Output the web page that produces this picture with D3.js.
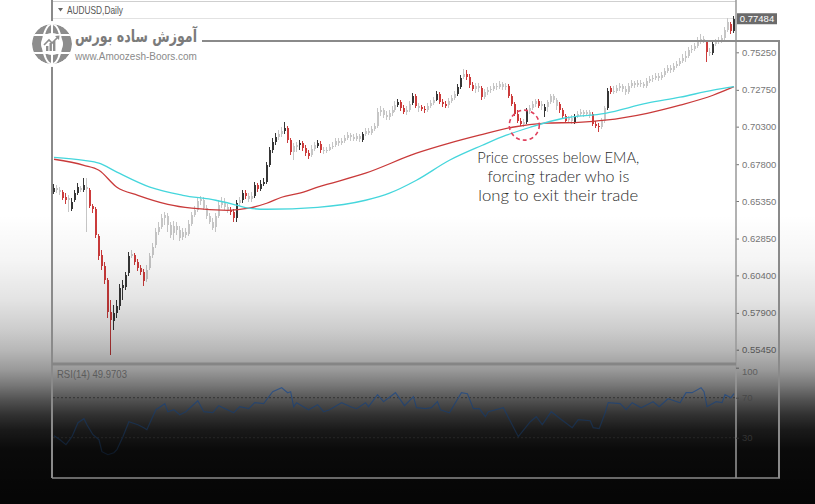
<!DOCTYPE html>
<html>
<head>
<meta charset="utf-8">
<script src="https://cdn.jsdelivr.net/npm/d3@7"></script>
<style>
  html, body { margin: 0; padding: 0; background: #fff; }
  svg { display: block; }
</style>
</head>
<body>
<svg id="chart" width="815" height="504"></svg>
<script>
// AUDUSD daily candles (one entry per trading day)
const open = [
  .6593,.6620,.6607,.6593,.6560,.6540,.6480,.6540,.6587,.6620,
  .6607,.6627,.6607,.6500,.6480,.6300,.6174,.6100,.6007,.5794,
  .5734,.5787,.5834,.5954,.5961,.6054,.6167,.6174,.6127,.6087,
  .6060,.6014,.6087,.6174,.6240,.6327,.6360,.6420,.6433,.6374,
  .6320,.6367,.6340,.6294,.6327,.6314,.6380,.6440,.6473,.6533,
  .6540,.6487,.6433,.6393,.6360,.6433,.6507,.6527,.6493,.6473,
  .6460,.6420,.6520,.6540,.6587,.6567,.6547,.6567,.6640,.6613,
  .6647,.6660,.6773,.6873,.6926,.6960,.6980,.6999,.7019,.6940,
  .6860,.6893,.6906,.6920,.6886,.6853,.6840,.6880,.6900,.6913,
  .6873,.6866,.6873,.6893,.6906,.6933,.6920,.6933,.6953,.6973,
  .6960,.6946,.6966,.6940,.6980,.6999,.6986,.7013,.7033,.7126,
  .7139,.7106,.7093,.7119,.7139,.7173,.7193,.7153,.7126,.7139,
  .7186,.7233,.7166,.7159,.7146,.7139,.7166,.7186,.7206,.7246,
  .7193,.7179,.7173,.7199,.7219,.7246,.7293,.7359,.7379,.7359,
  .7306,.7279,.7299,.7286,.7226,.7259,.7273,.7279,.7299,.7293,
  .7313,.7293,.7299,.7233,.7179,.7113,.7066,.7046,.7059,.7133,
  .7153,.7179,.7199,.7166,.7133,.7159,.7193,.7233,.7206,.7179,
  .7139,.7099,.7073,.7086,.7059,.7099,.7113,.7126,.7113,.7126,
  .7113,.7046,.7033,.7026,.7066,.7153,.7286,.7259,.7266,.7286,
  .7299,.7279,.7259,.7299,.7319,.7306,.7319,.7313,.7299,.7333,
  .7346,.7353,.7366,.7353,.7372,.7399,.7419,.7406,.7432,.7446,
  .7466,.7486,.7499,.7539,.7546,.7566,.7599,.7612,.7592,.7526,
  .7519,.7579,.7592,.7606,.7619,.7672,.7712,.7666
];
const high = [
  .6647,.6640,.6627,.6607,.6587,.6573,.6553,.6607,.6653,.6633,
  .6687,.6687,.6620,.6513,.6493,.6314,.6207,.6127,.6021,.5874,
  .5841,.5874,.5981,.6007,.6060,.6194,.6207,.6187,.6147,.6107,
  .6080,.6107,.6187,.6254,.6354,.6393,.6447,.6460,.6453,.6393,
  .6400,.6393,.6367,.6354,.6354,.6407,.6460,.6500,.6560,.6567,
  .6560,.6507,.6453,.6420,.6453,.6540,.6560,.6553,.6513,.6493,
  .6480,.6540,.6560,.6607,.6607,.6587,.6593,.6660,.6653,.6673,
  .6687,.6793,.6893,.6953,.6986,.7006,.7026,.7059,.7033,.6953,
  .6920,.6926,.6940,.6933,.6906,.6873,.6906,.6926,.6940,.6933,
  .6893,.6893,.6913,.6926,.6953,.6953,.6953,.6973,.6993,.6986,
  .6980,.6986,.6980,.6993,.7019,.7019,.7033,.7053,.7153,.7166,
  .7153,.7133,.7139,.7166,.7199,.7213,.7206,.7173,.7166,.7199,
  .7253,.7246,.7186,.7173,.7166,.7186,.7206,.7226,.7266,.7259,
  .7213,.7199,.7219,.7239,.7266,.7313,.7372,.7412,.7406,.7379,
  .7326,.7319,.7319,.7299,.7279,.7293,.7299,.7319,.7319,.7333,
  .7326,.7319,.7313,.7246,.7193,.7139,.7086,.7079,.7153,.7173,
  .7199,.7213,.7213,.7199,.7179,.7206,.7246,.7246,.7219,.7193,
  .7153,.7113,.7099,.7106,.7113,.7133,.7146,.7139,.7139,.7139,
  .7126,.7066,.7053,.7086,.7166,.7286,.7299,.7299,.7306,.7319,
  .7313,.7299,.7319,.7339,.7333,.7339,.7339,.7326,.7353,.7366,
  .7372,.7386,.7386,.7392,.7419,.7439,.7439,.7452,.7466,.7486,
  .7512,.7532,.7559,.7572,.7586,.7626,.7646,.7632,.7606,.7552,
  .7592,.7612,.7626,.7639,.7692,.7752,.7725,.7765
];
const low = [
  .6580,.6587,.6573,.6540,.6513,.6460,.6467,.6527,.6573,.6593,
  .6593,.6327,.6487,.6453,.6287,.6140,.6074,.5981,.5754,.5508,
  .5674,.5754,.5807,.5874,.5941,.6034,.6154,.6107,.6067,.6040,
  .5967,.5994,.6074,.6154,.6220,.6307,.6347,.6374,.6327,.6287,
  .6274,.6307,.6267,.6274,.6287,.6300,.6367,.6427,.6460,.6507,
  .6473,.6413,.6380,.6340,.6327,.6420,.6487,.6473,.6453,.6440,
  .6393,.6393,.6500,.6520,.6547,.6527,.6527,.6553,.6593,.6600,
  .6633,.6647,.6760,.6853,.6906,.6940,.6960,.6980,.6920,.6840,
  .6806,.6860,.6873,.6866,.6833,.6813,.6826,.6866,.6886,.6853,
  .6846,.6853,.6866,.6880,.6893,.6900,.6906,.6920,.6940,.6933,
  .6933,.6933,.6926,.6926,.6966,.6973,.6973,.6999,.7019,.7099,
  .7086,.7073,.7073,.7099,.7126,.7159,.7133,.7113,.7106,.7126,
  .7173,.7153,.7126,.7133,.7119,.7126,.7153,.7173,.7199,.7179,
  .7159,.7153,.7153,.7186,.7206,.7233,.7279,.7346,.7339,.7286,
  .7266,.7253,.7259,.7206,.7213,.7239,.7253,.7266,.7273,.7279,
  .7273,.7273,.7219,.7166,.7099,.7053,.7033,.7026,.7046,.7113,
  .7139,.7159,.7153,.7139,.7093,.7126,.7179,.7186,.7139,.7119,
  .7086,.7059,.7053,.7046,.7046,.7086,.7099,.7093,.7099,.7086,
  .7033,.7019,.6993,.7013,.7053,.7139,.7246,.7246,.7253,.7266,
  .7259,.7239,.7246,.7286,.7286,.7293,.7293,.7286,.7286,.7319,
  .7326,.7339,.7333,.7339,.7359,.7386,.7386,.7392,.7419,.7432,
  .7452,.7459,.7486,.7519,.7532,.7552,.7579,.7586,.7459,.7499,
  .7506,.7566,.7579,.7586,.7606,.7659,.7646,.7652
];
const close = [
  .6620,.6607,.6593,.6553,.6540,.6553,.6527,.6587,.6627,.6607,
  .6640,.6613,.6500,.6480,.6307,.6167,.6100,.6007,.5794,.5741,
  .5787,.5834,.5954,.5974,.6040,.6167,.6180,.6127,.6087,.6060,
  .6001,.6074,.6167,.6227,.6327,.6360,.6420,.6440,.6374,.6307,
  .6367,.6340,.6287,.6327,.6307,.6380,.6440,.6473,.6533,.6547,
  .6487,.6433,.6393,.6354,.6433,.6507,.6533,.6493,.6473,.6460,
  .6420,.6520,.6540,.6587,.6567,.6547,.6567,.6640,.6613,.6647,
  .6660,.6773,.6873,.6926,.6960,.6980,.6999,.7019,.6940,.6860,
  .6900,.6906,.6920,.6886,.6853,.6833,.6880,.6906,.6920,.6873,
  .6866,.6873,.6893,.6900,.6933,.6920,.6933,.6953,.6973,.6960,
  .6946,.6966,.6946,.6980,.6999,.6986,.7013,.7033,.7126,.7139,
  .7106,.7093,.7119,.7139,.7173,.7193,.7153,.7126,.7139,.7179,
  .7233,.7166,.7153,.7146,.7139,.7166,.7186,.7206,.7246,.7193,
  .7179,.7166,.7199,.7219,.7246,.7293,.7353,.7379,.7359,.7306,
  .7279,.7299,.7286,.7226,.7259,.7273,.7279,.7299,.7293,.7313,
  .7293,.7299,.7233,.7179,.7113,.7066,.7046,.7059,.7133,.7153,
  .7179,.7199,.7166,.7179,.7159,.7193,.7233,.7206,.7166,.7139,
  .7099,.7066,.7086,.7066,.7099,.7113,.7126,.7113,.7126,.7106,
  .7046,.7033,.7026,.7066,.7153,.7266,.7259,.7266,.7286,.7299,
  .7279,.7259,.7299,.7319,.7306,.7319,.7313,.7299,.7333,.7346,
  .7353,.7366,.7353,.7372,.7399,.7419,.7406,.7432,.7446,.7466,
  .7486,.7499,.7539,.7546,.7566,.7599,.7612,.7606,.7526,.7519,
  .7579,.7592,.7606,.7619,.7672,.7725,.7666,.77484
];
// 1 = candle shown in full colour, 0 = muted grey candle
const emphasis = [
  1,0,0,1,1,0,1,1,1,0,  1,0,1,1,1,1,1,1,1,1,  1,1,1,1,1,1,0,1,1,1,
  1,0,0,0,0,0,0,0,0,0,  0,0,0,0,0,0,0,0,0,0,  0,0,0,0,0,0,0,0,0,1,
  1,1,0,1,1,0,0,1,1,1,  1,1,1,1,1,0,0,1,1,1,  0,0,1,1,1,1,0,0,1,1,
  0,0,0,0,0,0,0,0,0,0,  0,0,0,1,0,0,0,0,0,0,  0,0,0,0,0,1,1,1,0,0,
  1,1,0,1,1,0,0,0,1,1,  1,1,0,0,0,1,1,0,1,1,  1,0,0,1,0,0,0,0,0,0,
  0,0,1,1,1,1,1,0,1,0,  0,0,1,0,1,0,0,0,0,1,  1,1,0,0,1,0,0,0,0,0,
  1,1,1,0,0,1,1,0,0,0,  0,0,0,0,0,0,0,0,0,0,  0,0,0,0,0,0,0,0,0,0,
  0,0,0,0,0,0,0,0,1,0,  1,0,0,0,0,0,1,1
];

// Moving averages: [candle index, price]
const emaRed = [
  [0,.6813],[10,.6773],[15,.6740],[21,.6627],[28,.6573],[38,.6513],[46,.6487],
  [58,.6473],[65,.6487],[71,.6520],[76,.6560],[82,.6587],[88,.6627],[104,.6720],
  [121,.6853],[132,.6920],[142,.6973],[153,.7026],[164,.7053],[175,.7059],
  [184,.7073],[198,.7119],[209,.7173],[220,.7239],[227,.7296]
];
const emaCyan = [
  [0,.6826],[10,.6806],[15,.6787],[21,.6727],[32,.6627],[43,.6573],[54,.6540],
  [61,.6507],[65,.6487],[71,.6480],[88,.6493],[104,.6540],[112,.6587],[121,.6673],
  [132,.6806],[143,.6906],[151,.6973],[159,.7026],[170,.7086],[184,.7119],
  [198,.7186],[209,.7226],[220,.7273],[227,.7296]
];

// RSI(14): [candle index, value]
const rsi = [
  [0,32],[2,28],[4,23],[6,31],[8,45],[10,49],[11,43],[13,33],[15,28],[16,16],
  [18,13],[20,15],[21,18],[23,31],[25,46],[28,43],[30,40],[31,38],[34,58],[37,64],
  [38,56],[40,58],[42,53],[44,56],[48,67],[50,56],[53,55],[55,62],[60,55],[62,61],
  [65,59],[67,65],[70,64],[73,76],[76,80],[78,75],[79,76],[80,61],[81,65],[85,58],
  [88,63],[90,56],[92,58],[96,65],[99,61],[101,59],[104,65],[105,61],[108,73],[110,66],
  [114,75],[117,62],[120,71],[121,60],[124,59],[126,60],[128,66],[129,58],[132,55],[136,75],
  [138,74],[140,59],[142,59],[144,51],[145,56],[150,60],[155,31],[159,46],[161,51],[163,43],
  [166,56],[169,49],[173,40],[175,48],[179,47],[180,40],[182,39],[184,55],[185,65],[189,64],
  [191,58],[193,65],[196,60],[198,63],[200,66],[202,61],[205,69],[209,65],[211,75],[213,75],
  [216,80],[217,76],[218,61],[221,66],[223,65],[224,73],[226,70],[227,74]
];

const priceTicks = [0.7525, 0.7275, 0.7030, 0.6780, 0.6535, 0.6285, 0.6040, 0.5790, 0.5545];
const rsiTicks = [100, 70, 30];
const rsiLevels = [70, 30];
const symbolTitle = "AUDUSD,Daily";
const rsiTitle = "RSI(14) 49.9703";
const crossIndex = 157, crossPrice = 0.7040;
const noteLines = ["Price crosses below EMA,", "forcing trader who is", "long to exit their trade"];
const brandName = "آموزش ساده بورس";
const brandUrl = "www.Amoozesh-Boors.com";

const svg = d3.select("#chart");
const N = close.length;
const LEFT = 52, RIGHT = 736, FRAME_R = 779, BOTTOM = 478, SEP = 364;

const x = d3.scaleLinear().domain([0, N - 1]).range([54, 734]);
const y = d3.scaleLinear().domain([0.5545, 0.7525]).range([349.7, 52.3]);
const yR = d3.scaleLinear().domain([0, 100]).range([467.7, 367.7]);

const axisFont = "9.5px 'Liberation Sans', Arial, sans-serif";

function fitWidth(sel, target) {
  const w = sel.node().getComputedTextLength();
  if (!w) return;
  const ax = +sel.attr("x");
  sel.attr("transform", `translate(${ax},0) scale(${target / w},1) translate(${-ax},0)`);
}

// page background
svg.append("rect").attr("width", 815).attr("height", 504).attr("fill", "#fff");

// window header
svg.append("line").attr("x1", LEFT).attr("x2", RIGHT).attr("y1", 1.5).attr("y2", 1.5)
  .attr("stroke", "#cfcfcf");
svg.append("line").attr("x1", LEFT).attr("x2", RIGHT).attr("y1", 18.5).attr("y2", 18.5)
  .attr("stroke", "#e2e2e2");
svg.append("path").attr("d", "M58,8 L63,8 L60.5,11.5 Z").attr("fill", "#666");
svg.append("text").attr("x", 67).attr("y", 14).text(symbolTitle)
  .style("font", "10px 'Liberation Sans', Arial, sans-serif").attr("fill", "#555")
  .call(fitWidth, 56);

// candles
const tone = i => !emphasis[i] ? "#c6c6c6" : (close[i] >= open[i] ? "#363636" : "#cc3b3b");
const cg = svg.append("g").attr("shape-rendering", "crispEdges");
cg.selectAll("line").data(d3.range(N)).join("line")
  .attr("x1", i => Math.round(x(i)) - 0.5).attr("x2", i => Math.round(x(i)) - 0.5)
  .attr("y1", i => y(high[i])).attr("y2", i => y(low[i]))
  .attr("stroke", tone).attr("stroke-width", 1);
cg.selectAll("rect").data(d3.range(N)).join("rect")
  .attr("x", i => Math.round(x(i)) - 1).attr("width", 2)
  .attr("y", i => y(Math.max(open[i], close[i])))
  .attr("height", i => Math.max(1, Math.abs(y(open[i]) - y(close[i]))))
  .attr("fill", tone);

// moving averages
const emaLine = d3.line().x(d => x(d[0])).y(d => y(d[1])).curve(d3.curveMonotoneX);
svg.append("path").attr("d", emaLine(emaRed)).attr("fill", "none")
  .attr("stroke", "#c93a3a").attr("stroke-width", 1.3);
svg.append("path").attr("d", emaLine(emaCyan)).attr("fill", "none")
  .attr("stroke", "#45d6dc").attr("stroke-width", 1.3);

// crossover marker and note
const cx = x(crossIndex), cy = y(crossPrice);
svg.append("circle").attr("cx", cx).attr("cy", cy).attr("r", 15)
  .attr("fill", "none").attr("stroke", "#e0405c").attr("stroke-width", 1.6)
  .attr("stroke-dasharray", "4,3");
const noteWidths = [162, 142, 160];
noteLines.forEach((t, k) => {
  svg.append("text").attr("x", cx + 34).attr("y", cy + 38 + k * 19)
    .attr("text-anchor", "middle").text(t)
    .style("font", "300 15px Lato, 'Open Sans', sans-serif").attr("fill", "#2a2a2a")
    .call(fitWidth, noteWidths[k]);
});

// price axis
const pa = svg.append("g").attr("transform", `translate(${RIGHT},0)`)
  .call(d3.axisRight(y).tickValues(priceTicks).tickSize(3).tickPadding(3)
    .tickFormat(d3.format(".5f")));
pa.select(".domain").remove();
pa.selectAll("line").attr("stroke", "#777");
pa.selectAll("text").attr("fill", "#777").style("font", axisFont);

// last price tag
const last = close[N - 1];
svg.append("rect").attr("x", RIGHT + 1).attr("y", y(last) - 5.5).attr("width", 40).attr("height", 11)
  .attr("fill", "#6b6b6b");
svg.append("text").attr("x", RIGHT + 21).attr("y", y(last) + 3.5).attr("text-anchor", "middle")
  .text(d3.format(".5f")(last)).attr("fill", "#fff").style("font", axisFont);

// darkening fade towards the bottom of the page
const defs = svg.append("defs");
const fade = defs.append("linearGradient").attr("id", "fade")
  .attr("gradientUnits", "userSpaceOnUse").attr("x1", 0).attr("y1", 0).attr("x2", 0).attr("y2", 504);
[[215, 0], [260, 0.04], [300, 0.11], [330, 0.2], [350, 0.28], [370, 0.4], [385, 0.53],
 [400, 0.68], [415, 0.81], [430, 0.9], [450, 0.96], [504, 0.98]].forEach(([py, op]) => {
  fade.append("stop").attr("offset", py / 504).attr("stop-color", "#000").attr("stop-opacity", op);
});
svg.append("rect").attr("width", 815).attr("height", 504).attr("fill", "url(#fade)");

const rsiInk = defs.append("linearGradient").attr("id", "rsiInk")
  .attr("gradientUnits", "userSpaceOnUse").attr("x1", 0).attr("y1", 385).attr("x2", 0).attr("y2", 455);
rsiInk.append("stop").attr("offset", 0).attr("stop-color", "#36598c");
rsiInk.append("stop").attr("offset", 0.45).attr("stop-color", "#1d3554");
rsiInk.append("stop").attr("offset", 1).attr("stop-color", "#0d1826");

// frame lines
const frame = svg.append("g").attr("stroke", "#8a8a8a").attr("fill", "none");
frame.append("line").attr("x1", LEFT).attr("x2", LEFT).attr("y1", 0).attr("y2", BOTTOM).attr("stroke-width", 2);
frame.append("line").attr("x1", RIGHT).attr("x2", RIGHT).attr("y1", 0).attr("y2", BOTTOM)
  .attr("stroke-width", 1.5).attr("stroke", "#999");
frame.append("line").attr("x1", 202).attr("x2", FRAME_R + 1).attr("y1", 41).attr("y2", 41).attr("stroke-width", 2);
frame.append("line").attr("x1", FRAME_R).attr("x2", FRAME_R).attr("y1", 40).attr("y2", BOTTOM).attr("stroke-width", 2);
frame.append("line").attr("x1", LEFT).attr("x2", FRAME_R + 1).attr("y1", BOTTOM).attr("y2", BOTTOM).attr("stroke-width", 1.5);
frame.append("line").attr("x1", LEFT).attr("x2", RIGHT).attr("y1", SEP).attr("y2", SEP)
  .attr("stroke-width", 3).attr("stroke", "#858585");

// RSI panel
svg.append("g").selectAll("line").data(rsiLevels).join("line")
  .attr("x1", LEFT + 1).attr("x2", RIGHT).attr("y1", d => yR(d)).attr("y2", d => yR(d))
  .attr("stroke", "#2a2a2a").attr("stroke-opacity", 0.8).attr("stroke-dasharray", "2,2");
svg.append("path").attr("d", d3.line().x(d => x(d[0])).y(d => yR(d[1]))(rsi))
  .attr("fill", "none").attr("stroke", "url(#rsiInk)").attr("stroke-width", 1.2);
svg.append("text").attr("x", 57).attr("y", 378).text(rsiTitle)
  .style("font", "10px 'Liberation Sans', Arial, sans-serif").attr("fill", "#5c5c5c")
  .call(fitWidth, 70);
const rsiInkText = { 100: "#5e5e5e", 70: "#474747", 30: "#333" };
const ra = svg.append("g").attr("transform", `translate(${RIGHT},0)`)
  .call(d3.axisRight(yR).tickValues(rsiTicks).tickSize(3).tickPadding(3));
ra.select(".domain").remove();
ra.selectAll("line").attr("stroke", d => rsiInkText[d]);
ra.selectAll("text").attr("fill", d => rsiInkText[d]).style("font", axisFont)
  .attr("y", d => d === 100 ? 4 : 0);

// brand mark
const logo = svg.append("g").attr("transform", "translate(52,44)");
logo.append("circle").attr("r", 23).attr("fill", "#fff");
defs.append("clipPath").attr("id", "globeClip").append("circle").attr("r", 20);
const globe = logo.append("g").attr("clip-path", "url(#globeClip)");
globe.append("circle").attr("r", 20).attr("fill", "#8d8d8d");
globe.append("ellipse").attr("rx", 9).attr("ry", 20).attr("fill", "none").attr("stroke", "#fff").attr("stroke-width", 2);
globe.append("line").attr("x1", 0).attr("x2", 0).attr("y1", -20).attr("y2", 20).attr("stroke", "#fff").attr("stroke-width", 2);
[-9, 9].forEach(v => globe.append("line").attr("x1", -20).attr("x2", 20).attr("y1", v).attr("y2", v)
  .attr("stroke", "#fff").attr("stroke-width", 2));
logo.append("circle").attr("r", 11).attr("fill", "#fff");
[[-6, 2, 5], [-2.5, -1, 8], [1, -3, 10]].forEach(([bx, by, bh]) =>
  logo.append("rect").attr("x", bx).attr("y", by).attr("width", 2.4).attr("height", bh).attr("fill", "#8d8d8d"));
logo.append("path").attr("d", "M-8,1 L-3,-4 L0,-1 L6,-7").attr("fill", "none")
  .attr("stroke", "#8d8d8d").attr("stroke-width", 1.6);
logo.append("path").attr("d", "M3,-8 L7.5,-8.5 L7,-4 Z").attr("fill", "#8d8d8d");

svg.append("text").attr("x", 197).attr("y", 42).attr("text-anchor", "end")
  .text(brandName).style("font", "bold 17px 'DejaVu Sans', sans-serif").attr("fill", "#7b7b7b")
  .call(fitWidth, 122);
svg.append("text").attr("x", 75).attr("y", 60).text(brandUrl)
  .style("font", "10.5px 'Liberation Sans', Arial, sans-serif").attr("fill", "#8a8a8a")
  .call(fitWidth, 122);
</script>
</body>
</html>
